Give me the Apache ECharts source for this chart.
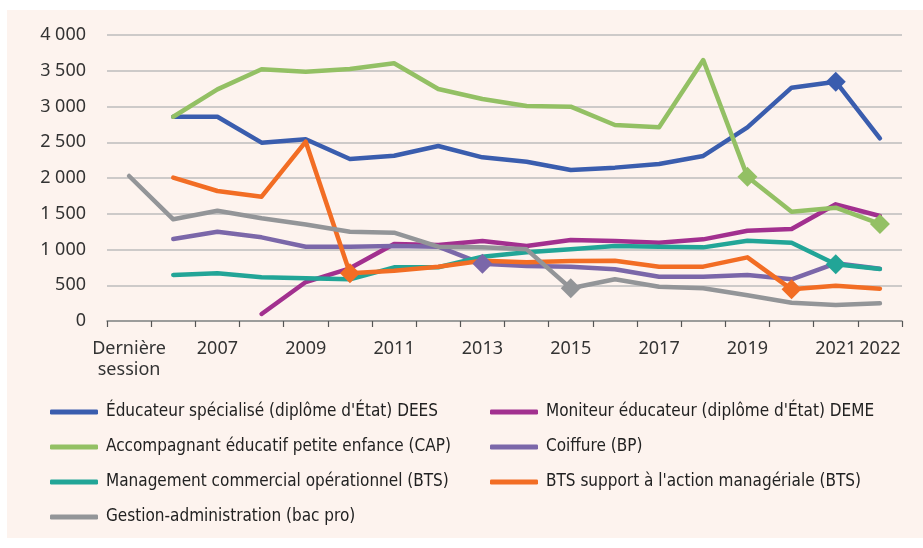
<!DOCTYPE html>
<html>
<head>
<meta charset="utf-8">
<script src="https://cdn.jsdelivr.net/npm/echarts@6/dist/echarts.min.js"></script>
<style>
  html, body { margin: 0; padding: 0; background: #ffffff; }
  #panel { position: absolute; left: 7px; top: 10px; width: 916px; height: 528px; background: #FDF3EE; }
  #grid { position: absolute; left: 0; top: 0; width: 923px; height: 548px; }
</style>
</head>
<body>
<div id="panel"></div>
<div id="grid"></div>
<script>
const categories = ['Dernière\nsession', '2006', '2007', '2008', '2009', '2010', '2011', '2012', '2013',
  '2014', '2015', '2016', '2017', '2018', '2019', '2020', '2021', '2022'];

const dees = [null, 2857, 2857, 2494, 2541, 2266, 2312, 2448, 2289, 2228, 2112, 2145, 2196, 2308, 2709, 3263, 3347, 2555];
const deme = [null, null, null, 98, 545, 737, 1077, 1063, 1119, 1049, 1133, 1119, 1095, 1142, 1263, 1287, 1632, 1469];
const cap = [null, 2857, 3240, 3520, 3487, 3524, 3604, 3245, 3105, 3007, 2998, 2741, 2709, 3650, 2019, 1529, 1585, 1357];
const coiffure = [null, 1147, 1249, 1170, 1039, 1039, 1049, 1039, 800, 769, 760, 723, 620, 620, 643, 583, 807, 730];
const management = [null, 643, 667, 611, 597, 583, 751, 751, 900, 960, 1002, 1049, 1039, 1030, 1123, 1095, 793, 727];
const btsSupport = [null, 2005, 1818, 1739, 2508, 667, 704, 760, 844, 821, 839, 844, 760, 760, 890, 443, 494, 452];
const gestion = [2028, 1422, 1543, 1436, 1350, 1249, 1235, 1039, 1030, 1002, 457, 583, 480, 457, 359, 256, 224, 247];

// points drawn with a diamond
const marksDees = [16];
const marksCap = [14, 17];
const marksCoiffure = [8];
const marksManagement = [16];
const marksBts = [5, 15];
const marksGestion = [10];

const myChart = echarts.init(document.getElementById('grid'));

const axisFont = 'Noto Sans';
const legendFont = "'DejaVu Sans Condensed', 'Noto Sans', sans-serif";

function makeSeries(name, values, marks, color) {
  return {
    name: name,
    type: 'line',
    data: values.map((v, i) => ({
      value: v,
      symbol: marks.includes(i) ? 'diamond' : 'none',
    })),
    symbolSize: 20,
    color: color,
    lineStyle: { width: 4.5, color: color, cap: 'round', join: 'round' },
    itemStyle: { color: color },
    connectNulls: false,
    animation: false,
  };
}

const legendText = {
  fontFamily: legendFont,
  fontSize: 17,
  color: '#222',
  lineHeight: 20,
  padding: [0, 0, 0, 3],
};

const option = {
  backgroundColor: 'transparent',
  legend: [
    {
      orient: 'vertical',
      left: 50,
      top: 402,
      padding: 0,
      itemWidth: 48,
      itemHeight: 5,
      itemGap: 15,
      icon: 'roundRect',
      textStyle: legendText,
      data: [
        'Éducateur spécialisé (diplôme d\'État) DEES',
        'Accompagnant éducatif petite enfance (CAP)',
        'Management commercial opérationnel (BTS)',
        'Gestion-administration (bac pro)',
      ],
    },
    {
      orient: 'vertical',
      left: 490,
      top: 402,
      padding: 0,
      itemWidth: 48,
      itemHeight: 5,
      itemGap: 15,
      icon: 'roundRect',
      textStyle: legendText,
      data: [
        'Moniteur éducateur (diplôme d\'État) DEME',
        'Coiffure (BP)',
        'BTS support à l\'action managériale (BTS)',
      ],
    },
  ],
  grid: {
    left: 107,
    right: 21,
    top: 35,
    bottom: 227,
  },
  xAxis: {
    type: 'category',
    data: categories,
    boundaryGap: true,
    axisLine: { show: true, lineStyle: { color: '#8c8c8c', width: 1.5 } },
    axisTick: { show: true, interval: 0, length: 6, lineStyle: { color: '#555', width: 1.2 } },
    axisLabel: {
      interval: (i) => i % 2 === 0 || i === 17,
      fontFamily: axisFont,
      fontSize: 18,
      color: '#333',
      margin: 17,
      lineHeight: 21,
    },
    splitLine: { show: false },
  },
  yAxis: {
    type: 'value',
    min: 0,
    max: 4000,
    interval: 500,
    axisLine: { show: false },
    axisTick: { show: false },
    axisLabel: {
      fontFamily: axisFont,
      fontSize: 18,
      color: '#333',
      margin: 21,
      formatter: (v) => String(v).replace(/\B(?=(\d{3})+(?!\d))/g, ' '),
    },
    splitLine: { show: true, lineStyle: { color: '#bdbdbd', width: 1.5 } },
  },
  series: [
    makeSeries('Éducateur spécialisé (diplôme d\'État) DEES', dees, marksDees, '#3A5DAE'),
    makeSeries('Moniteur éducateur (diplôme d\'État) DEME', deme, [], '#A2308F'),
    makeSeries('Accompagnant éducatif petite enfance (CAP)', cap, marksCap, '#93C064'),
    makeSeries('Coiffure (BP)', coiffure, marksCoiffure, '#7B67A9'),
    makeSeries('Management commercial opérationnel (BTS)', management, marksManagement, '#22A597'),
    makeSeries('BTS support à l\'action managériale (BTS)', btsSupport, marksBts, '#F26D24'),
    makeSeries('Gestion-administration (bac pro)', gestion, marksGestion, '#939598'),
  ],
};

myChart.setOption(option);
</script>
</body>
</html>
